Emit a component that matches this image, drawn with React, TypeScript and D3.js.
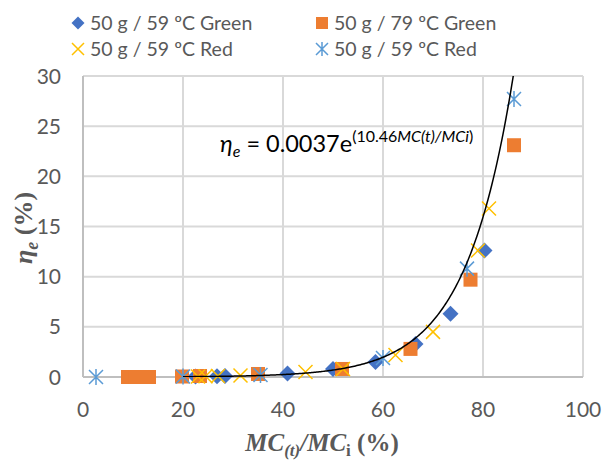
import React from "react";
import * as d3 from "d3";

const W = 602;
const H = 463;

// Series data: [MC(t)/MCi %, eta_e %]
const greenX59 = [22.5, 26.8, 28.4, 40.9, 50.0, 58.5, 66.5, 73.5, 80.3];
const greenY59 = [0.05, 0.08, 0.1, 0.35, 0.8, 1.5, 3.3, 6.3, 12.6];

const greenX79 = [9.0, 10.5, 12.0, 13.2, 19.8, 23.4, 35.0, 51.8, 65.5, 77.5, 86.2];
const greenY79 = [0.0, 0.0, 0.0, 0.0, 0.05, 0.1, 0.3, 0.8, 2.8, 9.7, 23.1];

const redX59a = [23.0, 24.5, 27.0, 31.5, 44.5, 52.0, 62.5, 70.0, 79.0, 81.2];
const redY59a = [0.05, 0.08, 0.1, 0.15, 0.5, 0.8, 2.2, 4.5, 12.6, 16.8];

const redX59b = [2.6, 20.0, 35.5, 60.0, 76.8, 86.2];
const redY59b = [0.0, 0.05, 0.2, 1.9, 10.8, 27.7];

const xTicks = [0, 20, 40, 60, 80, 100];
const yTicks = [0, 5, 10, 15, 20, 25, 30];

const trendA = 0.0037;
const trendB = 10.46;

const legendLabels = [
  "50 g / 59 ºC Green",
  "50 g / 79 ºC Green",
  "50 g / 59 ºC Red",
  "50 g / 59 ºC Red",
];

const C_BLUE = "#4472C4";
const C_ORANGE = "#ED7D31";
const C_YELLOW = "#FFC000";
const C_LBLUE = "#5B9BD5";

const FONT = "Lato, 'Open Sans', sans-serif";
const SERIF = "'Liberation Serif', 'DejaVu Serif', serif";

function Diamond({ x, y, s = 8 }: { x: number; y: number; s?: number }) {
  return (
    <path
      d={`M${x},${y - s}L${x + s},${y}L${x},${y + s}L${x - s},${y}Z`}
      fill={C_BLUE}
    />
  );
}
function Square({ x, y, s = 7 }: { x: number; y: number; s?: number }) {
  return <rect x={x - s} y={y - s} width={2 * s} height={2 * s} fill={C_ORANGE} />;
}
function Cross({ x, y, s = 7 }: { x: number; y: number; s?: number }) {
  return (
    <path
      d={`M${x - s},${y - s}L${x + s},${y + s}M${x - s},${y + s}L${x + s},${y - s}`}
      stroke={C_YELLOW}
      strokeWidth={1.5}
      fill="none"
    />
  );
}
function Star({ x, y, s = 7 }: { x: number; y: number; s?: number }) {
  return (
    <path
      d={`M${x - s},${y - s}L${x + s},${y + s}M${x - s},${y + s}L${x + s},${y - s}M${x},${y - s - 1}L${x},${y + s + 1}`}
      stroke={C_LBLUE}
      strokeWidth={1.5}
      fill="none"
    />
  );
}

export default function App() {
  const left = 83;
  const right = 583;
  const top = 76;
  const bottom = 377;

  const x = d3.scaleLinear().domain([0, 100]).range([left, right]);
  const y = d3.scaleLinear().domain([0, 30]).range([bottom, top]);

  const xEnd = (Math.log(32 / trendA) / trendB) * 100;
  const trendPts = d3.range(20, xEnd, 0.25).map((v) => [v, trendA * Math.exp((trendB * v) / 100)] as [number, number]);
  const line = d3
    .line<[number, number]>()
    .x((d) => x(d[0]))
    .y((d) => y(d[1]))
    .curve(d3.curveLinear);

  return (
    <svg
      width={W}
      height={H}
      style={{ position: "absolute", left: 0, top: 0, background: "#fff" }}
    >
      <defs>
        <clipPath id="plot">
          <rect x={left} y={top} width={right - left} height={bottom - top} />
        </clipPath>
      </defs>
      <rect width={W} height={H} fill="#fff" />

      {/* grid */}
      {xTicks.slice(1).map((t) => (
        <line key={"gx" + t} x1={x(t)} x2={x(t)} y1={top} y2={bottom} stroke="#d9d9d9" strokeWidth={2} />
      ))}
      {yTicks.slice(1).map((t) => (
        <line key={"gy" + t} x1={left} x2={right} y1={y(t)} y2={y(t)} stroke="#d9d9d9" strokeWidth={2} />
      ))}
      {/* axes */}
      <line x1={left} x2={left} y1={top} y2={bottom} stroke="#bfbfbf" strokeWidth={2} />
      <line x1={left} x2={right} y1={bottom} y2={bottom} stroke="#bfbfbf" strokeWidth={2} />

      {/* tick labels */}
      {yTicks.map((t) => (
        <text
          key={"yl" + t}
          x={61}
          y={y(t)}
          dy="0.36em"
          textAnchor="end"
          fontFamily={FONT}
          fontSize={21}
          fill="#595959"
        >
          {t}
        </text>
      ))}
      {xTicks.map((t) => (
        <text
          key={"xl" + t}
          x={x(t)}
          y={417}
          textAnchor="middle"
          fontFamily={FONT}
          fontSize={21}
          fill="#595959"
        >
          {t}
        </text>
      ))}

      {/* markers */}
      <g>
        {greenX59.map((v, i) => (
          <Diamond key={"d" + i} x={x(v)} y={y(greenY59[i])} />
        ))}
        {greenX79.map((v, i) => (
          <Square key={"s" + i} x={x(v)} y={y(greenY79[i])} />
        ))}
        {redX59a.map((v, i) => (
          <Cross key={"c" + i} x={x(v)} y={y(redY59a[i])} />
        ))}
        {redX59b.map((v, i) => (
          <Star key={"t" + i} x={x(v)} y={y(redY59b[i])} />
        ))}
      </g>

      {/* trend line */}
      <path d={line(trendPts) || ""} fill="none" stroke="#000" strokeWidth={1.5} clipPath="url(#plot)" />

      {/* equation */}
      <text x={220} y={152} fontFamily={FONT} fontSize={23.5} fill="#000">
        <tspan fontStyle="italic">η</tspan>
        <tspan fontStyle="italic" fontSize={16} dy={5}>e</tspan>
        <tspan dy={-5}> = 0.0037e</tspan>
        <tspan fontSize={16} dy={-10}>(10.46</tspan>
        <tspan fontSize={16} fontStyle="italic">MC(t)/MCi</tspan>
        <tspan fontSize={16}>)</tspan>
      </text>

      {/* legend */}
      {[
        { lx: 78, ly: 23 },
        { lx: 322, ly: 23 },
        { lx: 78, ly: 49 },
        { lx: 322, ly: 49 },
      ].map((p, i) => (
        <g key={"lg" + i}>
          {i === 0 && <Diamond x={p.lx} y={p.ly} s={6.5} />}
          {i === 1 && <Square x={p.lx} y={p.ly} s={6} />}
          {i === 2 && <Cross x={p.lx} y={p.ly} s={6} />}
          {i === 3 && <Star x={p.lx} y={p.ly} s={6} />}
          <text x={p.lx + 12} y={p.ly} dy="0.36em" fontFamily={FONT} fontSize={19.5} fill="#595959">
            {legendLabels[i]}
          </text>
        </g>
      ))}

      {/* y axis title */}
      <text
        transform="translate(32,228) rotate(-90)"
        textAnchor="middle"
        fontFamily={SERIF}
        fontWeight="bold"
        fontSize={26}
        fill="#595959"
      >
        <tspan fontStyle="italic">η</tspan>
        <tspan fontStyle="italic" fontSize={18} dy={6}>e</tspan>
        <tspan dy={-6}> (%)</tspan>
      </text>

      {/* x axis title */}
      <text
        x={322}
        y={451}
        textAnchor="middle"
        fontFamily={SERIF}
        fontWeight="bold"
        fontSize={25}
        fill="#595959"
      >
        <tspan fontStyle="italic">MC</tspan>
        <tspan fontStyle="italic" fontSize={17} dy={5}>(t)</tspan>
        <tspan fontStyle="italic" dy={-5}>/MC</tspan>
        <tspan fontSize={17} dy={5}>i</tspan>
        <tspan dy={-5}> (%)</tspan>
      </text>
    </svg>
  );
}
